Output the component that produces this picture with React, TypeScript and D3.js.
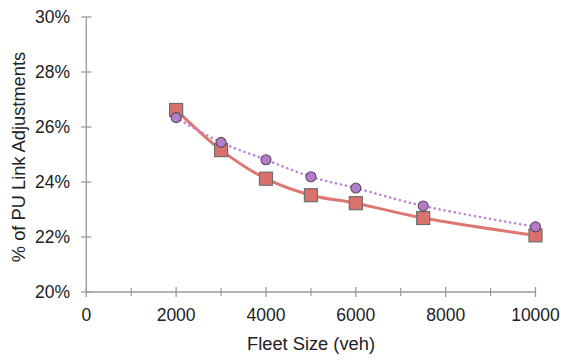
import React from "react";
import * as d3 from "d3";

const fleetSizes = [2000, 3000, 4000, 5000, 6000, 7500, 10000];
const squareSeries = [26.62, 25.16, 24.12, 23.52, 23.23, 22.69, 22.06];
const circleSeries = [26.34, 25.44, 24.81, 24.19, 23.78, 23.13, 22.37];
const xTicks = [0, 2000, 4000, 6000, 8000, 10000];
const xMinorTicks = [1000, 3000, 5000, 7000, 9000];
const yTicks = [20, 22, 24, 26, 28, 30];

const W = 561;
const H = 360;
const FONT = "'Liberation Sans', Arial, sans-serif";

export default function App() {
  const x = d3.scaleLinear().domain([0, 10000]).range([86.3, 535.5]);
  const y = d3.scaleLinear().domain([20, 30]).range([292, 17]);

  const lineGen = d3
    .line<[number, number]>()
    .x((d) => x(d[0]))
    .y((d) => y(d[1]))
    .curve(d3.curveCatmullRom.alpha(0.5));

  const sqPts = fleetSizes.map((f, i) => [f, squareSeries[i]] as [number, number]);
  const ciPts = fleetSizes.map((f, i) => [f, circleSeries[i]] as [number, number]);

  const axisColor = "#9a9a9a";
  const sq = 13;

  return (
    <div style={{ position: "absolute", left: 0, top: 0 }}>
      <svg width={W} height={H} style={{ display: "block", background: "#fff" }} fontFamily={FONT}>
        {/* y axis */}
        <line x1={x(0)} x2={x(0)} y1={y(30)} y2={y(20)} stroke={axisColor} strokeWidth={1.3} />
        {yTicks.map((t) => (
          <g key={"y" + t}>
            <line x1={x(0) - 5} x2={x(0) + 5} y1={y(t)} y2={y(t)} stroke={axisColor} strokeWidth={1.3} />
            <text x={70} y={y(t)} dy="0.35em" textAnchor="end" fontSize={17.5} fill="#222">
              {t}%
            </text>
          </g>
        ))}
        {/* x axis */}
        <line x1={x(0)} x2={x(10000)} y1={y(20)} y2={y(20)} stroke={axisColor} strokeWidth={1.3} />
        {xTicks.map((t) => (
          <g key={"x" + t}>
            <line x1={x(t)} x2={x(t)} y1={y(20) - 5} y2={y(20) + 5} stroke={axisColor} strokeWidth={1.3} />
            <text x={x(t)} y={321} textAnchor="middle" fontSize={17.5} fill="#222">
              {t}
            </text>
          </g>
        ))}
        {xMinorTicks.map((t) => (
          <line key={"m" + t} x1={x(t)} x2={x(t)} y1={y(20) - 4} y2={y(20) + 4} stroke={axisColor} strokeWidth={1.2} />
        ))}
        {/* axis titles */}
        <text x={311} y={350} textAnchor="middle" fontSize={18.3} fill="#222">
          Fleet Size (veh)
        </text>
        <text
          transform={`translate(25,157) rotate(-90)`}
          textAnchor="middle"
          fontSize={18.3}
          fill="#222"
        >
          % of PU Link Adjustments
        </text>

        {/* series lines */}
        <path d={lineGen(sqPts) || ""} fill="none" stroke="#de7771" strokeWidth={3} />
        <path
          d={lineGen(ciPts) || ""}
          fill="none"
          stroke="#bf85d6"
          strokeWidth={2.6}
          strokeDasharray="0.1 5"
          strokeLinecap="round"
        />

        {/* square markers */}
        {sqPts.map((p, i) => (
          <rect
            key={"s" + i}
            x={x(p[0]) - sq / 2}
            y={y(p[1]) - sq / 2}
            width={sq}
            height={sq}
            fill="#d9716d"
            stroke="#6e6e6e"
            strokeWidth={1.2}
          />
        ))}
        {/* circle markers */}
        {ciPts.map((p, i) => (
          <circle
            key={"c" + i}
            cx={x(p[0])}
            cy={y(p[1])}
            r={5}
            fill="#b47dcc"
            stroke="#5a4a60"
            strokeWidth={1.1}
          />
        ))}
      </svg>
    </div>
  );
}
